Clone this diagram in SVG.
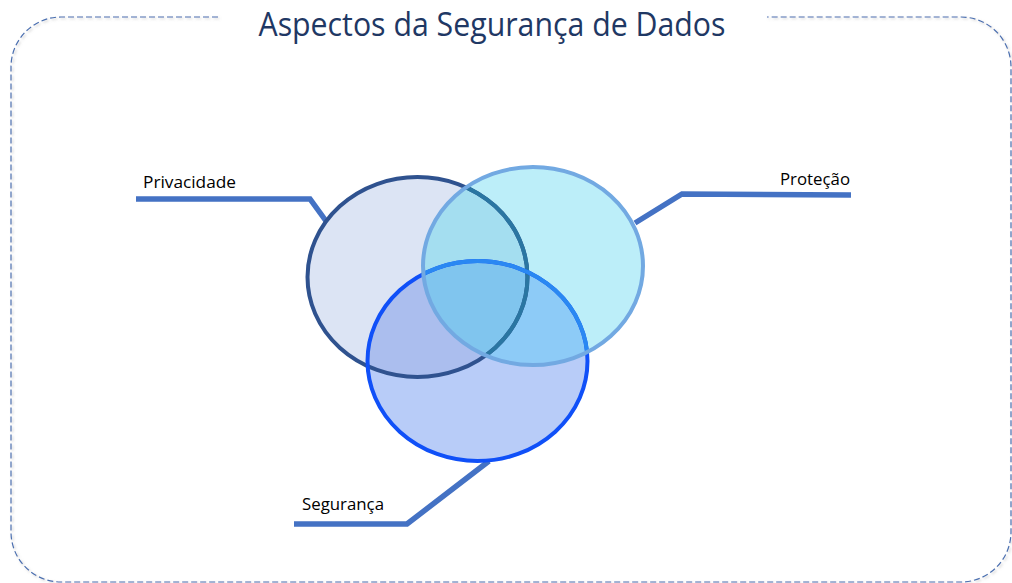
<svg xmlns="http://www.w3.org/2000/svg" width="1012" height="583" viewBox="0 0 1012 583">
<style>
.lbl{font-family:"Open Sans","Liberation Sans",Arial,sans-serif;font-size:16px;fill:#000}
.ttl{font-family:"Open Sans","Liberation Sans",Arial,sans-serif;font-size:32px;fill:#1F3864}
.conn{fill:none;stroke:#4472C4;stroke-width:5.5;stroke-linejoin:miter}
</style>
<defs>
<filter id="sh" x="-5%" y="-5%" width="110%" height="110%">
<feDropShadow dx="1.5" dy="1.5" stdDeviation="1.2" flood-color="#999" flood-opacity="0.5"/>
</filter>
<clipPath id="cPriv"><ellipse cx="417.5" cy="277" rx="110" ry="100"/></clipPath>
<clipPath id="cProt"><ellipse cx="533" cy="266" rx="110" ry="99"/></clipPath>
<clipPath id="cSec"><ellipse cx="477.5" cy="361" rx="110" ry="100"/></clipPath>
</defs>
<rect width="1012" height="583" fill="#fff"/>
<path d="M218,17 H61 A50,50 0 0 0 11,67 V532 A50,50 0 0 0 61,582 H961 A50,50 0 0 0 1011,532 V67 A50,50 0 0 0 961,17 H767" fill="none" stroke="#4A6FB0" stroke-width="1.2" stroke-dasharray="6,3" filter="url(#sh)"/>
<text class="ttl" x="492" y="36" text-anchor="middle" textLength="467" lengthAdjust="spacingAndGlyphs">Aspectos da Segurança de Dados</text>
<g id="connectors">
<polyline class="conn" points="136,199 310,199 326,221"/>
<polyline class="conn" points="851,195 682,194 635,223"/>
<polyline class="conn" points="294,524 407,524 489,461"/>
</g>
<g id="venn-fills">
<ellipse cx="417.5" cy="277" rx="110" ry="100" fill="#DCE4F4"/>
<ellipse cx="477.5" cy="361" rx="110" ry="100" fill="#B8CCF8"/>
<ellipse cx="533" cy="266" rx="110" ry="99" fill="#BCEEF9"/>
<g clip-path="url(#cPriv)"><ellipse cx="533" cy="266" rx="110" ry="99" fill="#A4DEF0"/><ellipse cx="477.5" cy="361" rx="110" ry="100" fill="#ABBEEE"/></g>
<g clip-path="url(#cProt)"><ellipse cx="477.5" cy="361" rx="110" ry="100" fill="#8DCBF7"/></g>
<g clip-path="url(#cProt)"><g clip-path="url(#cPriv)"><ellipse cx="477.5" cy="361" rx="110" ry="100" fill="#80C5EE"/></g></g>
</g>
<g id="privacidade">
<ellipse cx="417.5" cy="277" rx="110" ry="100" fill="none" stroke="#2F528F" stroke-width="4"/>
<g clip-path="url(#cProt)"><ellipse cx="417.5" cy="277" rx="110" ry="100" fill="none" stroke="#2A76A2" stroke-width="4"/></g>
<text class="lbl" x="143" y="188" textLength="93" lengthAdjust="spacingAndGlyphs">Privacidade</text>
</g>
<g id="seguranca">
<ellipse cx="477.5" cy="361" rx="110" ry="100" fill="none" stroke="#1050F8" stroke-width="4"/>
<g clip-path="url(#cProt)"><ellipse cx="477.5" cy="361" rx="110" ry="100" fill="none" stroke="#2A88F2" stroke-width="4"/></g>
<text class="lbl" x="302" y="510" textLength="82" lengthAdjust="spacingAndGlyphs">Segurança</text>
</g>
<g id="protecao">
<ellipse cx="533" cy="266" rx="110" ry="99" fill="none" stroke="#72A9E2" stroke-width="4"/>
<text class="lbl" x="850" y="185" text-anchor="end" textLength="70" lengthAdjust="spacingAndGlyphs">Proteção</text>
</g>
</svg>
